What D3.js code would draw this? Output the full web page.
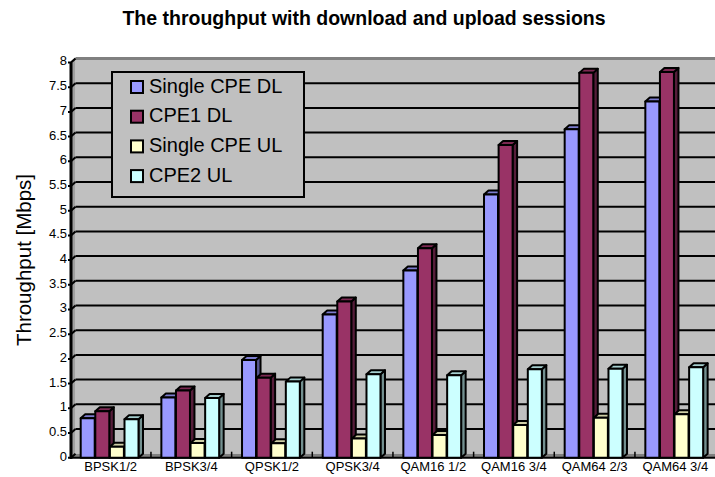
<!DOCTYPE html>
<html>
<head>
<meta charset="utf-8">
<script src="https://cdn.jsdelivr.net/npm/d3@7/dist/d3.min.js"></script>
<style>
  html, body { margin: 0; padding: 0; background: #fff; }
  svg { display: block; font-family: Arial, "Liberation Sans", sans-serif; }
</style>
</head>
<body>
<svg id="chart" width="715" height="477"></svg>
<script>
// Modulation / coding schemes along the x axis
const categories = ["BPSK1/2", "BPSK3/4", "QPSK1/2", "QPSK3/4", "QAM16 1/2", "QAM16 3/4", "QAM64 2/3", "QAM64 3/4"];

// Throughput per scheme, Mbps
const singleCpeDL = [0.80, 1.22, 1.98, 2.90, 3.79, 5.33, 6.65, 7.21];
const cpe1DL      = [0.94, 1.36, 1.62, 3.16, 4.24, 6.33, 7.79, 7.81];
const singleCpeUL = [0.22, 0.30, 0.29, 0.39, 0.46, 0.66, 0.81, 0.88];
const cpe2UL      = [0.78, 1.21, 1.54, 1.69, 1.67, 1.79, 1.80, 1.83];

const seriesNames = ["Single CPE DL", "CPE1 DL", "Single CPE UL", "CPE2 UL"];
const seriesValues = [singleCpeDL, cpe1DL, singleCpeUL, cpe2UL];
const seriesColors = ["#9999ff", "#993366", "#ffffcc", "#ccffff"];

const yTicks = [0, 0.5, 1, 1.5, 2, 2.5, 3, 3.5, 4, 4.5, 5, 5.5, 6, 6.5, 7, 7.5, 8];

const svg = d3.select("#chart");

// 3D depth offset between the front plane and the back wall
const DX = 4.5, DY = 4;
const wallLeft = 71 + DX, wallRight = 715;

const x = d3.scaleBand().domain(categories).range([70.3, 715.6]);
const xs = d3.scaleBand().domain(seriesNames).range([10.4, 10.4 + 4 * 14.6]);
const yWall = d3.scaleLinear().domain([0, 8]).range([453.7, 58.5]);
const yFront = v => yWall(v) + DY;

// Title
svg.append("text")
  .attr("x", 364).attr("y", 25)
  .attr("text-anchor", "middle")
  .attr("font-size", 19.5).attr("font-weight", "bold")
  .text("The throughput with download and upload sessions");

// Y axis title
svg.append("text")
  .attr("transform", "translate(31,260) rotate(-90)")
  .attr("text-anchor", "middle")
  .attr("font-size", 20.5)
  .text("Throughput [Mbps]");

// Back wall
svg.append("rect")
  .attr("x", wallLeft).attr("y", yWall(8))
  .attr("width", wallRight - wallLeft).attr("height", yWall(0) - yWall(8))
  .attr("fill", "#c0c0c0");

// Left side wall
svg.append("polygon")
  .attr("points", [[71, yFront(8)], [wallLeft, yWall(8)], [wallLeft, yWall(0)], [71, yFront(0)]].join(" "))
  .attr("fill", "#a0a0a0");

// Floor
svg.append("polygon")
  .attr("points", [[71, yFront(0)], [wallLeft, yWall(0)], [wallRight, yWall(0)], [wallRight, yFront(0)]].join(" "))
  .attr("fill", "#808080");

// Gridlines on the back wall
svg.append("g").selectAll("line")
  .data(yTicks.filter(v => v > 0 && v < 8))
  .join("line")
  .attr("x1", wallLeft).attr("x2", wallRight)
  .attr("y1", d => yWall(d)).attr("y2", d => yWall(d))
  .attr("stroke", "#000").attr("stroke-width", 2);

// Top edge of the wall
svg.append("line")
  .attr("x1", wallLeft).attr("x2", wallRight)
  .attr("y1", yWall(8)).attr("y2", yWall(8))
  .attr("stroke", "#808080").attr("stroke-width", 3);
svg.append("line")
  .attr("x1", 71).attr("y1", yFront(8)).attr("x2", wallLeft).attr("y2", yWall(8))
  .attr("stroke", "#808080").attr("stroke-width", 2);

// Value axis ticks, slanting from the front edge into the wall
svg.append("g").selectAll("path")
  .data(yTicks)
  .join("path")
  .attr("d", d => `M68,${yFront(d)} L71,${yFront(d)} L${wallLeft},${yWall(d)}`)
  .attr("fill", "none").attr("stroke", "#000").attr("stroke-width", 2);

// Value axis labels
svg.append("g").selectAll("text")
  .data(yTicks)
  .join("text")
  .attr("x", 67).attr("y", d => yFront(d) - 0.5)
  .attr("text-anchor", "end").attr("dominant-baseline", "middle")
  .attr("font-size", 13)
  .text(d => d3.format("~g")(d));

// Value axis line
svg.append("line")
  .attr("x1", 71).attr("x2", 71)
  .attr("y1", yFront(8)).attr("y2", yFront(0) + 1)
  .attr("stroke", "#000").attr("stroke-width", 3);

// Category axis line and ticks
svg.append("line")
  .attr("x1", 70).attr("x2", 715)
  .attr("y1", yFront(0)).attr("y2", yFront(0))
  .attr("stroke", "#000").attr("stroke-width", 2);
svg.append("g").selectAll("line")
  .data(categories.slice(1))
  .join("line")
  .attr("x1", d => x(d)).attr("x2", d => x(d))
  .attr("y1", yFront(0)).attr("y2", yFront(0) - 6)
  .attr("stroke", "#000").attr("stroke-width", 1.5);

// 3D bars
function shade(c, k) { return d3.rgb(c).darker(k).formatHex(); }
const barW = 14;
const bars = [];
categories.forEach((cat, ci) => {
  seriesNames.forEach((s, si) => {
    bars.push({ cat, s, v: seriesValues[si][ci], color: seriesColors[si] });
  });
});
const barG = svg.append("g")
  .attr("stroke", "#000").attr("stroke-width", 2).attr("stroke-linejoin", "round");
bars.forEach(b => {
  const x0 = x(b.cat) + xs(b.s);
  const yt = yFront(b.v), yb = yFront(0);
  const g = barG.append("g");
  g.append("polygon")
    .attr("points", [[x0 + barW, yt], [x0 + barW + DX, yt - DY], [x0 + barW + DX, yb - DY], [x0 + barW, yb]].join(" "))
    .attr("fill", shade(b.color, 1.6));
  g.append("polygon")
    .attr("points", [[x0, yt], [x0 + DX, yt - DY], [x0 + barW + DX, yt - DY], [x0 + barW, yt]].join(" "))
    .attr("fill", shade(b.color, 0.6));
  g.append("rect")
    .attr("x", x0).attr("y", yt).attr("width", barW).attr("height", yb - yt)
    .attr("fill", b.color);
});

// Category labels
svg.append("g").selectAll("text")
  .data(categories)
  .join("text")
  .attr("x", d => x(d) + x.bandwidth() / 2)
  .attr("y", 471)
  .attr("text-anchor", "middle")
  .attr("font-size", 13)
  .text(d => d);

// Legend
const legend = svg.append("g");
legend.append("rect")
  .attr("x", 112).attr("y", 72).attr("width", 192).attr("height", 125)
  .attr("fill", "#c0c0c0").attr("stroke", "#000").attr("stroke-width", 2);
const items = legend.selectAll("g.item")
  .data(seriesNames)
  .join("g").attr("class", "item")
  .attr("transform", (d, i) => `translate(0,${87.5 + i * 29.7})`);
items.append("rect")
  .attr("x", 131).attr("y", -6.5).attr("width", 12).attr("height", 12)
  .attr("fill", (d, i) => seriesColors[i])
  .attr("stroke", "#000").attr("stroke-width", 2);
items.append("text")
  .attr("x", 149).attr("y", 0)
  .attr("dominant-baseline", "middle")
  .attr("font-size", 20)
  .text(d => d);
</script>
</body>
</html>
